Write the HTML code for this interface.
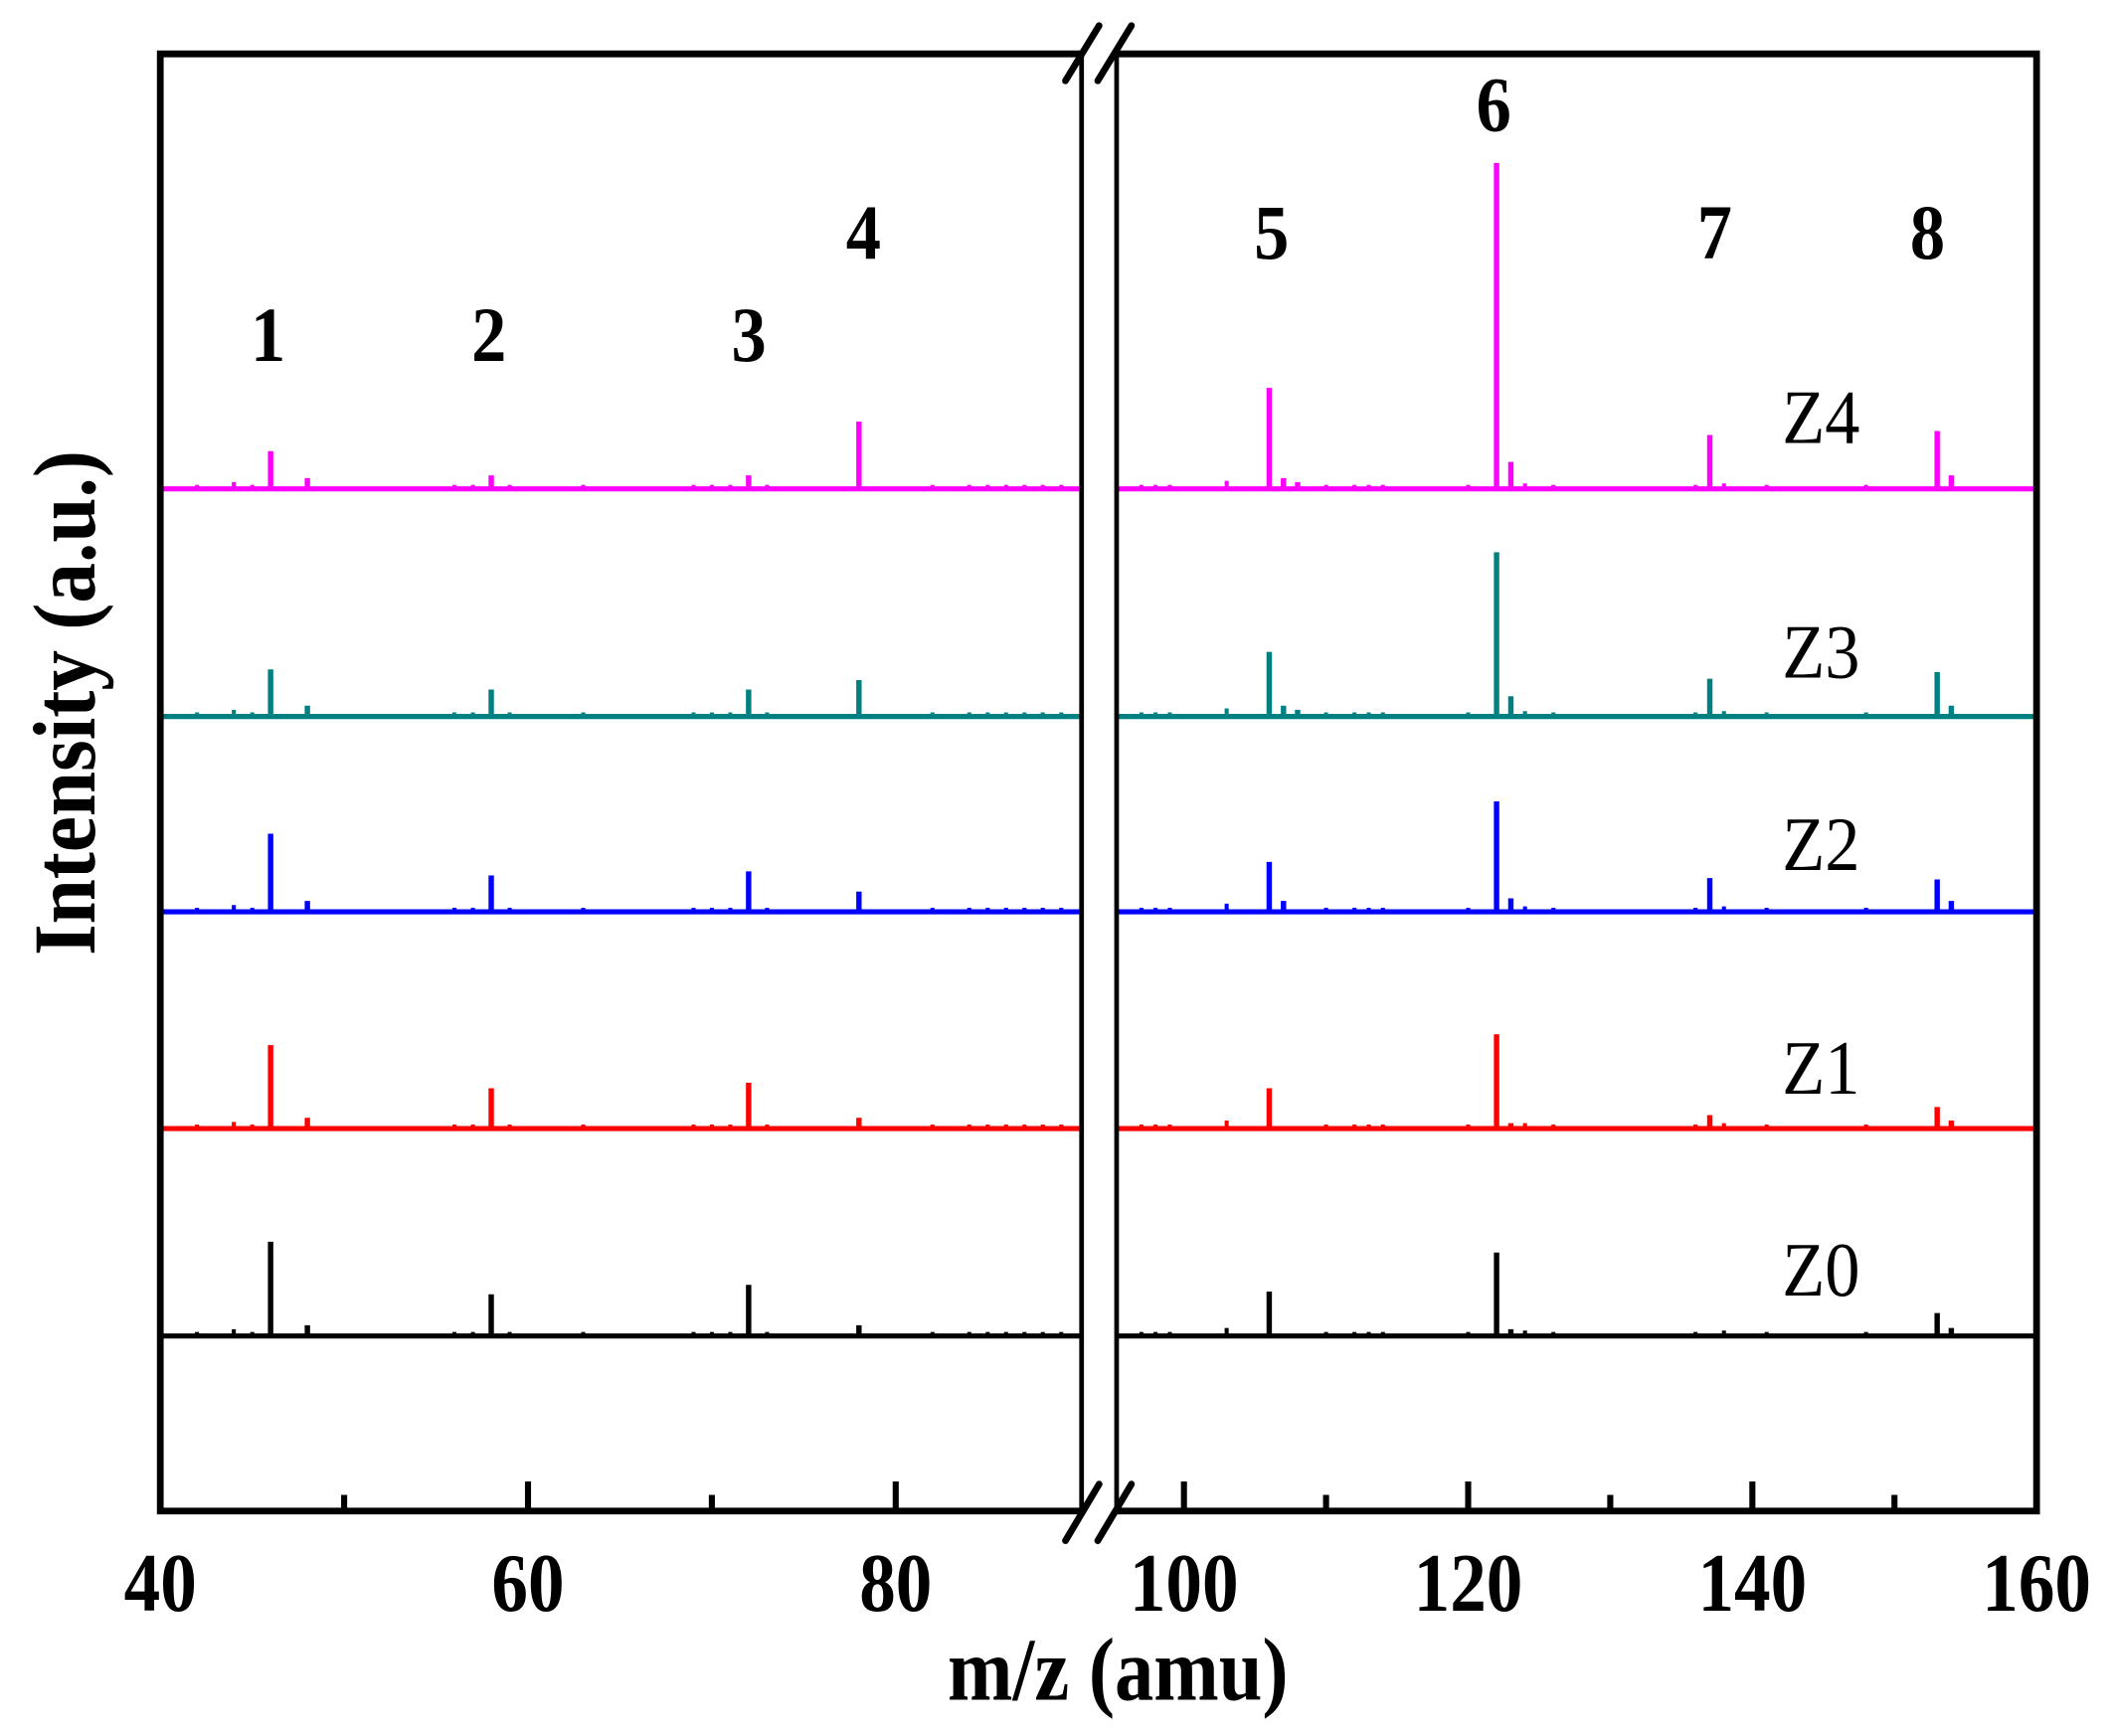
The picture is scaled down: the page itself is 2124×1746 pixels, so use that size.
<!DOCTYPE html>
<html><head><meta charset="utf-8"><style>
html,body{margin:0;padding:0;background:#fff;}
svg{display:block;}
</style></head><body>
<svg width="2124" height="1746" viewBox="0 0 1568 1289" preserveAspectRatio="none" xmlns="http://www.w3.org/2000/svg">
<defs>
<path id="sb" d="M146.3 0v-3M173.6 0v-5M187.3 0v-3M337.4 0v-3M351.1 0v-3M378.4 0v-3M433 0v-3M514.9 0v-3M528.5 0v-3M542.2 0v-3M569.5 0v-3M692.3 0v-3M719.6 0v-3M733.3 0v-3M746.9 0v-3M760.6 0v-3M774.2 0v-3M787.9 0v-3M847.4 0v-3M857.9 0v-3M868.5 0v-3M910.7 0v-6M984.5 0v-3M1005.6 0v-3M1016.2 0v-3M1026.7 0v-3M1090 0v-3M1132.2 0v-4M1153.3 0v-3M1258.8 0v-3M1311.6 0v-3M1385.4 0v-3M1279.9 0v-4" stroke-width="3"/>
<path id="bl" d="M119 0H803M829 0H1512" stroke-width="3.8"/>
</defs>
<g fill="none">
<g transform="translate(0,363)" stroke="#ff00ff">
<use href="#bl"/><use href="#sb"/>
<path stroke-width="4" d="M200.9 0v-28M228.2 0v-8M364.7 0v-10M555.8 0v-10M637.7 0v-50M942.3 0v-75M952.9 0v-8M963.4 0v-5M1111.1 0v-242M1121.7 0v-20M1269.4 0v-40M1438.2 0v-43M1448.7 0v-10"/>
</g>
<g transform="translate(0,532)" stroke="#008080">
<use href="#bl"/><use href="#sb"/>
<path stroke-width="4" d="M200.9 0v-35M228.2 0v-8M364.7 0v-20M555.8 0v-20M637.7 0v-27M942.3 0v-48M952.9 0v-8M963.4 0v-5M1111.1 0v-122M1121.7 0v-15M1269.4 0v-28M1438.2 0v-33M1448.7 0v-8"/>
</g>
<g transform="translate(0,677)" stroke="#0000ff">
<use href="#bl"/><use href="#sb"/>
<path stroke-width="4" d="M200.9 0v-58M228.2 0v-8M364.7 0v-27M555.8 0v-30M637.7 0v-15M942.3 0v-37M952.9 0v-8M1111.1 0v-82M1121.7 0v-10M1269.4 0v-25M1438.2 0v-24M1448.7 0v-8"/>
</g>
<g transform="translate(0,838)" stroke="#ff0000">
<use href="#bl"/><use href="#sb"/>
<path stroke-width="4" d="M200.9 0v-62M228.2 0v-8M364.7 0v-30M555.8 0v-34M637.7 0v-8M942.3 0v-30M1111.1 0v-70M1121.7 0v-4M1269.4 0v-10M1438.2 0v-16M1448.7 0v-6"/>
</g>
<g transform="translate(0,992)" stroke="#000">
<use href="#bl"/><use href="#sb"/>
<path stroke-width="4" d="M200.9 0v-70M228.2 0v-8M364.7 0v-31M555.8 0v-38M637.7 0v-8M942.3 0v-33M1111.1 0v-62M1121.7 0v-5M1438.2 0v-17M1448.7 0v-6"/>
</g>
<g stroke="#000">
<path d="M803 40H119V1122H803" stroke-width="5"/>
<path d="M829 40H1512V1122H829" stroke-width="5"/>
<path d="M803 40V1122M829 40V1122" stroke-width="3.5"/>
<path d="M791 60L816 19M815 60L840 19" stroke-width="5" stroke-linecap="round"/>
<path d="M791 1144L816 1102M815 1144L840 1102" stroke-width="5" stroke-linecap="round"/>
<path d="M392 1122v-22M665 1122v-22M879 1122v-22M1090 1122v-22M1301 1122v-22" stroke-width="4.5"/>
<path d="M255.5 1122v-12M528.5 1122v-12M984.5 1122v-12M1195.5 1122v-12M1406.5 1122v-12" stroke-width="4.5"/>
</g>
</g>
<g font-family="Liberation Serif, serif" fill="#000">
<g font-weight="bold" font-size="54" text-anchor="middle">
<g transform="translate(0,1196) scale(1,1.15)">
<text x="119" y="0">40</text><text x="392" y="0">60</text><text x="665" y="0">80</text>
<text x="879" y="0">100</text><text x="1090" y="0">120</text><text x="1301" y="0">140</text><text x="1512" y="0">160</text>
</g>
<text transform="translate(830,1262) scale(1,1.15)" font-size="58">m/z (amu)</text>
<text transform="translate(70,522) rotate(-90) scale(1,1.1)" font-size="60">Intensity (a.u.)</text>
<g font-size="52">
<text transform="translate(199,268) scale(1,1.12)">1</text><text transform="translate(363,268) scale(1,1.12)">2</text><text transform="translate(556,268) scale(1,1.12)">3</text><text transform="translate(641,192) scale(1,1.12)">4</text>
<text transform="translate(944,192) scale(1,1.12)">5</text><text transform="translate(1109,97) scale(1,1.12)">6</text><text transform="translate(1273,192) scale(1,1.12)">7</text><text transform="translate(1431,192) scale(1,1.12)">8</text>
</g>
</g>
<g font-size="52" text-anchor="middle">
<text transform="translate(1352,329) scale(1,1.1)">Z4</text><text transform="translate(1352,503) scale(1,1.1)">Z3</text><text transform="translate(1352,646) scale(1,1.1)">Z2</text>
<text transform="translate(1352,812) scale(1,1.1)">Z1</text><text transform="translate(1352,962) scale(1,1.1)">Z0</text>
</g>
</g>
</svg>
</body></html>
